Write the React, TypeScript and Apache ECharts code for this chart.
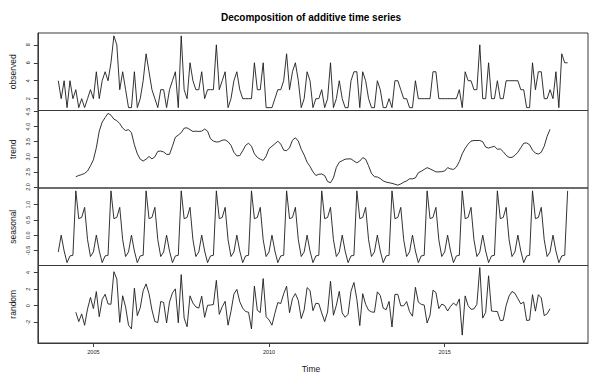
import React, { useEffect, useRef } from "react";
import * as echarts from "echarts";

const startYear = 2004;
const frequency = 12;

const observed: number[] = [
  4, 2, 4, 1, 4, 2, 3, 1, 2, 1, 2, 3,
  2, 5, 2, 4, 5, 4, 6, 9, 8, 3, 5, 3,
  1, 1, 5, 1, 2, 4, 7, 5, 3, 2, 1, 3,
  3, 1, 3, 4, 5, 1, 9, 3, 2, 6, 4, 3,
  3, 5, 2, 3, 3, 3, 8, 3, 4, 5, 1, 2,
  4, 5, 3, 2, 2, 2, 2, 6, 3, 3, 6, 1,
  1, 1, 2, 3, 3, 4, 7, 3, 5, 6, 4, 1,
  2, 5, 4, 1, 2, 2, 3, 1, 2, 6, 1, 2,
  4, 2, 1, 1, 4, 5, 5, 1, 5, 4, 2, 1,
  1, 4, 3, 1, 1, 2, 1, 4, 4, 3, 2, 2,
  1, 1, 4, 2, 2, 2, 2, 2, 5, 5, 2, 2,
  2, 2, 2, 2, 2, 3, 1, 5, 4, 4, 3, 3,
  8, 2, 2, 6, 2, 2, 4, 2, 2, 4, 4, 4,
  4, 4, 3, 3, 1, 1, 6, 3, 5, 5, 2, 2,
  3, 2, 5, 1, 7, 6, 6,
];

const trend: (number | null)[] = [
  null, null, null, null, null, null, 2.34, 2.38, 2.41, 2.45, 2.53, 2.7,
  2.9, 3.3, 3.85, 4.15, 4.3, 4.44, 4.38, 4.25, 4.2, 4.1, 3.95, 3.87,
  3.9, 3.8, 3.4, 3.1, 2.92, 2.86, 2.92, 3.01, 2.93, 3.0, 3.18, 3.19,
  3.16, 3.08, 3.08, 3.35, 3.65, 3.72, 3.8, 3.95, 3.96, 3.9, 3.84, 3.85,
  3.84, 3.85, 3.92, 3.85, 3.6, 3.52, 3.49, 3.5, 3.55, 3.56, 3.5, 3.38,
  3.15, 3.03, 3.04, 3.2, 3.38, 3.45, 3.35, 3.1, 2.98, 2.92, 2.88, 3.02,
  3.27, 3.35, 3.43, 3.52, 3.42, 3.22, 3.2, 3.3, 3.55, 3.63, 3.52, 3.25,
  3.06, 2.82, 2.68, 2.5, 2.38, 2.42, 2.43, 2.38, 2.18, 2.14, 2.3, 2.65,
  2.82, 2.87, 2.92, 2.93, 2.93, 2.86, 2.8, 2.86, 2.97, 2.92, 2.7, 2.45,
  2.34, 2.33, 2.28, 2.2, 2.16, 2.14, 2.12, 2.09, 2.06, 2.1, 2.16, 2.2,
  2.27, 2.27, 2.3, 2.47, 2.52, 2.58, 2.64, 2.6, 2.55, 2.5, 2.5, 2.51,
  2.53, 2.64, 2.6, 2.58, 2.66, 2.84, 3.1, 3.28, 3.42, 3.52, 3.54, 3.54,
  3.54, 3.5, 3.32, 3.29, 3.32, 3.35, 3.25, 3.26, 3.17, 3.05, 2.98, 2.98,
  3.05, 3.15, 3.3, 3.45, 3.46, 3.4, 3.22, 3.12, 3.09, 3.15, 3.35, 3.68,
  3.91, null, null, null, null, null, null,
];

const seasonal: number[] = [
  -0.55, 0.0, -0.52, -0.9, -0.68, -0.66, 1.45, 0.54, 0.58, 0.91, -0.15, -0.7,
  -0.55, 0.0, -0.52, -0.9, -0.68, -0.66, 1.45, 0.54, 0.58, 0.91, -0.15, -0.7,
  -0.55, 0.0, -0.52, -0.9, -0.68, -0.66, 1.45, 0.54, 0.58, 0.91, -0.15, -0.7,
  -0.55, 0.0, -0.52, -0.9, -0.68, -0.66, 1.45, 0.54, 0.58, 0.91, -0.15, -0.7,
  -0.55, 0.0, -0.52, -0.9, -0.68, -0.66, 1.45, 0.54, 0.58, 0.91, -0.15, -0.7,
  -0.55, 0.0, -0.52, -0.9, -0.68, -0.66, 1.45, 0.54, 0.58, 0.91, -0.15, -0.7,
  -0.55, 0.0, -0.52, -0.9, -0.68, -0.66, 1.45, 0.54, 0.58, 0.91, -0.15, -0.7,
  -0.55, 0.0, -0.52, -0.9, -0.68, -0.66, 1.45, 0.54, 0.58, 0.91, -0.15, -0.7,
  -0.55, 0.0, -0.52, -0.9, -0.68, -0.66, 1.45, 0.54, 0.58, 0.91, -0.15, -0.7,
  -0.55, 0.0, -0.52, -0.9, -0.68, -0.66, 1.45, 0.54, 0.58, 0.91, -0.15, -0.7,
  -0.55, 0.0, -0.52, -0.9, -0.68, -0.66, 1.45, 0.54, 0.58, 0.91, -0.15, -0.7,
  -0.55, 0.0, -0.52, -0.9, -0.68, -0.66, 1.45, 0.54, 0.58, 0.91, -0.15, -0.7,
  -0.55, 0.0, -0.52, -0.9, -0.68, -0.66, 1.45, 0.54, 0.58, 0.91, -0.15, -0.7,
  -0.55, 0.0, -0.52, -0.9, -0.68, -0.66, 1.45, 0.54, 0.58, 0.91, -0.15, -0.7,
  -0.55, 0.0, -0.52, -0.9, -0.68, -0.66, 1.45,
];

const random: (number | null)[] = [
  null, null, null, null, null, null, -0.79, -1.92, -0.99, -2.36, -0.38, 1.0,
  -0.35, 1.7, -1.33, 0.75, 1.38, 0.22, 0.17, 4.1, 3.22, -2.01, 1.2, -0.17,
  -2.35, -2.8, 2.12, -1.2, -0.24, 1.8, 2.63, 1.45, -0.51, -1.91, -2.03, 0.51,
  0.39, -2.08, 0.44, 1.55, 2.03, -2.06, 3.75, -1.49, -2.54, 1.19, 0.31, -0.15,
  -0.29, 1.15, -1.4, 0.05, 0.08, 0.14, 3.06, -1.04, -0.13, 0.53, -2.35, -0.68,
  1.4, 1.97, 0.48, -0.3, -0.7, -0.79, -2.8, 2.36, -0.56, -0.83, 3.27, -1.32,
  -1.72, -2.35, -0.91, 0.38, 0.26, 1.44, 2.35, -0.84, 0.87, 1.46, 0.63, -1.55,
  -0.51, 2.18, 1.84, -0.6, 0.3, 0.24, -0.88, -1.92, -0.76, 2.95, -1.15, 0.05,
  1.73, -0.87, -1.4, -1.03, 1.75, 2.8, 0.75, -2.4, 1.45, 0.17, -0.55, -0.75,
  -0.79, 1.67, 1.24, -0.3, -0.48, 0.52, -2.57, 1.37, 1.36, -0.01, -0.01, 0.5,
  -0.72, -1.27, 2.22, 0.43, 0.16, 0.08, -2.09, -1.14, 1.87, 1.59, -0.35, 0.19,
  0.02, -0.64, -0.08, 0.32, 0.02, 0.82, -3.55, 1.18, 0.0, -0.43, -0.39, 0.16,
  4.6, -1.5, -0.8, 3.61, -0.64, -0.69, -0.7, -1.8, -1.75, 0.04, 1.17, 1.72,
  1.5, 0.85, 0.22, 0.45, -1.78, -1.74, 1.33, -0.66, 1.33, 0.94, -1.2, -0.98,
  -0.36, null, null, null, null, null, null,
];

const observedTicks = [2, 4, 6, 8];
const trendTicks = [2.0, 2.5, 3.0, 3.5, 4.0, 4.5];
const seasonalTicks = [-0.5, 0.0, 0.5, 1.0];
const randomTicks = [-2, 0, 2, 4];
const timeTicks = [2005, 2010, 2015];
const panelNames = ["observed", "trend", "seasonal", "random"];
const titleText = "Decomposition of additive time series";
const xAxisTitle = "Time";

const FONT = '"Liberation Sans", Arial, Helvetica, sans-serif';
const X_MIN = 2003.42;
const X_MAX = 2019.08;
const GRID_LEFT = 34;
const GRID_RIGHT = 11;
const GRID_TOP = 33;
const PANEL_H = 77.5;
const LINE_COLOR = "#1c1c1c";
const FRAME_COLOR = "#3a3a3a";
const TEXT_COLOR = "#1a1a1a";

function toPairs(values: (number | null)[]): [number, number][] {
  const out: [number, number][] = [];
  values.forEach((v, i) => {
    if (v !== null && v !== undefined) out.push([startYear + i / frequency, v]);
  });
  return out;
}

export default function App() {
  const ref = useRef<HTMLDivElement>(null);

  useEffect(() => {
    if (!ref.current) return;
    const chart = echarts.init(ref.current, undefined, { renderer: "svg" });

    const panels = [
      { data: observed, ticks: observedTicks, min: 0.68, max: 9.32, fmt: (v: number) => String(v) },
      { data: trend, ticks: trendTicks, min: 1.965, max: 4.535, fmt: (v: number) => v.toFixed(1) },
      { data: seasonal, ticks: seasonalTicks, min: -0.994, max: 1.544, fmt: (v: number) => v.toFixed(1) },
      { data: random, ticks: randomTicks, min: -4.5, max: 4.85, fmt: (v: number) => String(v) },
    ];

    const option: any = {
      animation: false,
      backgroundColor: "#ffffff",
      grid: panels.map((_, k) => ({
        left: GRID_LEFT,
        right: GRID_RIGHT,
        top: GRID_TOP + k * PANEL_H,
        height: PANEL_H,
        show: true,
        borderColor: FRAME_COLOR,
        borderWidth: 1,
        backgroundColor: "transparent",
        containLabel: false,
      })),
      xAxis: panels.map((_, k) => {
        const isLast = k === panels.length - 1;
        return {
          gridIndex: k,
          type: "value",
          position: "bottom",
          min: X_MIN,
          max: X_MAX,
          axisLine: { show: isLast, onZero: false, lineStyle: { color: FRAME_COLOR, width: 1 } },
          splitLine: { show: false },
          axisTick: {
            show: isLast,
            customValues: timeTicks,
            length: 4,
            lineStyle: { color: FRAME_COLOR, width: 1 },
          },
          axisLabel: {
            show: isLast,
            customValues: timeTicks,
            fontSize: 5.5,
            margin: 6,
            color: TEXT_COLOR,
            fontFamily: FONT,
            formatter: (v: number) => String(v),
          },
        };
      }),
      yAxis: panels.map((p, k) => ({
        gridIndex: k,
        type: "value",
        position: "left",
        min: p.min,
        max: p.max,
        name: panelNames[k],
        nameLocation: "middle",
        nameGap: 15,
        nameRotate: 90,
        nameTextStyle: { fontSize: 8.5, color: TEXT_COLOR, fontFamily: FONT },
        axisLine: { show: true, onZero: false, lineStyle: { color: FRAME_COLOR, width: 1 } },
        splitLine: { show: false },
        axisTick: {
          show: true,
          customValues: p.ticks,
          length: 4,
          lineStyle: { color: FRAME_COLOR, width: 1 },
        },
        axisLabel: {
          customValues: p.ticks,
          rotate: 90,
          fontSize: 5.5,
          margin: 7,
          color: TEXT_COLOR,
          fontFamily: FONT,
          formatter: p.fmt,
        },
      })),
      series: panels.map((p, k) => ({
        type: "line",
        xAxisIndex: k,
        yAxisIndex: k,
        data: toPairs(p.data),
        showSymbol: false,
        symbol: "none",
        lineStyle: { color: LINE_COLOR, width: 0.9 },
        silent: true,
      })),
      graphic: [
        {
          type: "text",
          x: GRID_LEFT + (599 - GRID_LEFT - GRID_RIGHT) / 2,
          y: 17,
          style: {
            text: titleText,
            font: `bold 10px ${FONT}`,
            fill: "#000",
            textAlign: "center",
            textVerticalAlign: "middle",
          },
        },
        {
          type: "text",
          x: GRID_LEFT + (599 - GRID_LEFT - GRID_RIGHT) / 2,
          y: 369,
          style: {
            text: xAxisTitle,
            font: `8.5px ${FONT}`,
            fill: TEXT_COLOR,
            textAlign: "center",
            textVerticalAlign: "middle",
          },
        },
      ],
    };

    chart.setOption(option);
    return () => chart.dispose();
  }, []);

  return (
    <div
      ref={ref}
      style={{ position: "fixed", left: 0, top: 0, width: 599, height: 381, background: "#fff" }}
    />
  );
}
